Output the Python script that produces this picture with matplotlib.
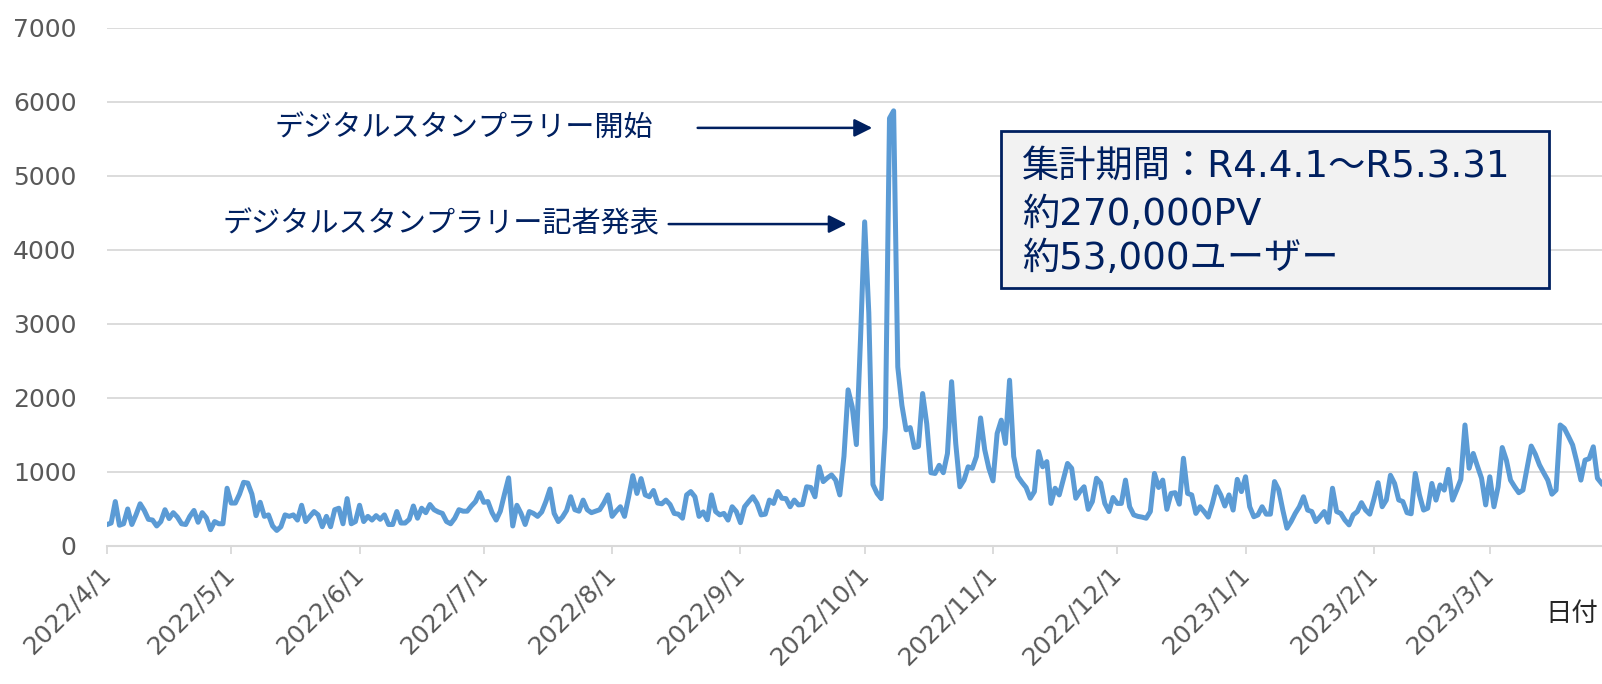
"""
Page views per day, 2022/4/1 - 2023/3 (digital stamp rally page).
"""
import pandas as pd
import matplotlib
matplotlib.use("Agg")
import matplotlib.pyplot as plt
from matplotlib.patches import Rectangle

plt.rcParams["font.family"] = ["DejaVu Sans", "Noto Sans CJK JP"]

# daily page views (first day = 2022/4/1)
pv_0401_0518 = [
    290, 310, 600, 280, 300, 500, 290, 420, 570, 480,
    360, 350, 270, 330, 490, 370, 450, 390, 300, 290,
    400, 480, 320, 450, 380, 220, 330, 300, 300, 780,
    580, 580, 700, 860, 850, 700, 410, 590, 400, 420,
    270, 210, 260, 420, 400, 420, 350, 550,
]
pv_0519_0705 = [
    330, 400, 465, 420, 260, 400, 260, 490, 510, 300,
    640, 300, 330, 550, 330, 400, 350, 410, 360, 420,
    290, 290, 465, 310, 310, 360, 540, 375, 510, 450,
    560, 490, 460, 440, 330, 300, 375, 490, 470, 470,
    540, 600, 720, 590, 600, 450, 350, 470,
]
pv_0706_0822 = [
    700, 920, 270, 550, 440, 290, 465, 440, 400, 460,
    600, 770, 440, 330, 390, 480, 665, 490, 470, 620,
    490, 450, 470, 490, 580, 690, 400, 470, 530, 400,
    665, 950, 710, 910, 690, 665, 750, 580, 570, 620,
    560, 440, 430, 375, 690, 735, 665, 400,
]
pv_0823_1105 = [
    460, 355, 690, 465, 420, 440, 350, 530, 465, 315,
    530, 600, 665, 575, 420, 430, 620, 575, 735, 645,
    640, 530, 620, 555, 560, 800, 790, 665, 1070, 870,
    920, 960, 890, 690, 1210, 2110, 1880, 1370, 2800, 4380,
    3150, 830, 710, 640, 1600, 5780, 5880, 2420, 1900, 1570,
    1600, 1330, 1345, 2060, 1650, 990, 980, 1090, 990, 1250,
    2220, 1385, 800, 890, 1070, 1050, 1210, 1730, 1300, 1050,
    880, 1520, 1700, 1385, 2240,
]
pv_1106_1220 = [
    1210, 940, 860, 790, 645, 735, 1275, 1070, 1140, 575,
    780, 690, 900, 1115, 1050, 645, 735, 800, 495, 600,
    915, 850, 575, 465, 655, 575, 575, 890, 530, 420,
    400, 390, 375, 465, 980, 790, 890, 495, 710, 720,
    565, 1185, 710, 690, 440,
]
pv_1221_0206 = [
    530, 464, 390, 575, 800, 690, 540, 690, 485, 900,
    735, 935, 530, 395, 420, 530, 430, 430, 870, 760,
    485, 240, 330, 440, 530, 665, 485, 465, 330, 395,
    465, 320, 780, 465, 440, 350, 285, 420, 465, 585,
    485, 430, 630, 855, 530, 620, 955, 845,
]
pv_0207_0328 = [
    622, 600, 450, 435, 980, 690, 485, 510, 845, 620,
    825, 755, 1035, 620, 755, 900, 1635, 1050, 1250, 1080,
    915, 555, 935, 530, 800, 1330, 1160, 890, 800, 720,
    755, 1050, 1350, 1240, 1095, 990, 890, 700, 755, 1635,
    1590, 1480, 1365, 1140, 890, 1160, 1180, 1340, 915, 845,
]

pv = (pv_0401_0518 + pv_0519_0705 + pv_0706_0822 + pv_0823_1105
      + pv_1106_1220 + pv_1221_0206 + pv_0207_0328)
dates = pd.date_range("2022-04-01", periods=len(pv), freq="D")

tick_dates = pd.date_range("2022-04-01", "2023-03-01", freq="MS")
tick_labels = [f"{d.year}/{d.month}/{d.day}" for d in tick_dates]
y_ticks = [0, 1000, 2000, 3000, 4000, 5000, 6000, 7000]

note_start = "デジタルスタンプラリー開始"
note_press = "デジタルスタンプラリー記者発表"
box_lines = ["集計期間：R4.4.1～R5.3.31", "約270,000PV", "約53,000ユーザー"]

NAVY = "#002060"
GRAY = "#595959"
GRID = "#D9D9D9"

fig = plt.figure(figsize=(16.02, 6.84), dpi=100)
ax = fig.add_axes([0.0668, 0.2018, 0.9407, 0.7573])

ax.plot(dates, pv, color="#5B9BD5", lw=3.6, solid_joinstyle="round")

ax.set_xlim(pd.Timestamp("2022-04-01"), pd.Timestamp("2023-03-31"))
ax.set_ylim(0, 7000)
ax.set_yticks(y_ticks)
ax.set_yticklabels([str(v) for v in y_ticks])
ax.set_xticks(tick_dates)
ax.set_xticklabels(tick_labels, rotation=45, ha="right", va="center",
                   rotation_mode="anchor")

ax.grid(axis="y", color=GRID, lw=1.3)
ax.set_axisbelow(True)
for s in ("top", "right", "left"):
    ax.spines[s].set_visible(False)
ax.spines["bottom"].set_color(GRID)
ax.spines["bottom"].set_linewidth(1.5)
ax.tick_params(axis="y", length=0, pad=22, labelsize=18, labelcolor=GRAY)
ax.tick_params(axis="x", direction="out", length=6, width=1.3, color=GRID,
               pad=12, labelsize=18, labelcolor=GRAY)

# annotations
arrow = dict(arrowstyle="-|>", color=NAVY, lw=1.8, mutation_scale=27,
             shrinkA=0, shrinkB=0)
ax.annotate("", xy=(pd.Timestamp("2022-10-02 20:00"), 5650),
            xytext=(pd.Timestamp("2022-08-21 16:00"), 5650), arrowprops=arrow)
ax.text(pd.Timestamp("2022-08-11"), 5650, note_start, ha="right", va="center",
        fontsize=21, color=NAVY)
ax.annotate("", xy=(pd.Timestamp("2022-09-26 16:00"), 4350),
            xytext=(pd.Timestamp("2022-08-14 16:00"), 4350), arrowprops=arrow)
ax.text(pd.Timestamp("2022-08-12 08:00"), 4350, note_press, ha="right",
        va="center", fontsize=21, color=NAVY)

# summary box
fig.patches.append(Rectangle((0.6248, 0.5789), 0.3421, 0.2295,
                             transform=fig.transFigure, facecolor="#F2F2F2",
                             edgecolor=NAVY, lw=2, zorder=5))
for line, yy in zip(box_lines, [0.7565, 0.6860, 0.6215]):
    fig.text(0.638, yy, line, ha="left", va="center", fontsize=26.8,
             color=NAVY, zorder=6)

fig.text(1545 / 1602, 1 - 614 / 684, "日付", ha="left", va="center",
         fontsize=19, color="#262626")

fig.savefig("out.png", dpi=100)
